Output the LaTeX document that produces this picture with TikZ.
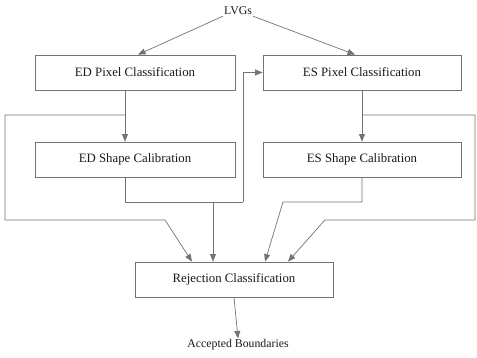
\documentclass[tikz,border=0pt]{standalone}
\usepackage{fontspec}
\setmainfont{Liberation Serif}
\usetikzlibrary{arrows.meta}
\begin{document}
\begin{tikzpicture}[x=1pt,y=-1pt,
  box/.style={draw=black!55,line width=0.8pt,minimum height=35pt,inner sep=0pt,font=\fontsize{12.8}{14}\selectfont,text=black!90},
  lbl/.style={font=\fontsize{11.8}{13}\selectfont,text=black!90,inner sep=1pt},
  conn/.style={draw=black!55,line width=0.7pt},
  arr/.style={conn,-{Triangle[length=7.5pt,width=6pt]},shorten >=0pt}]
\useasboundingbox (0,0) rectangle (477,358);
\node[lbl] (lvg) at (238,11) {LVGs};
\node[box,minimum width=200pt] (edp) at (135,72.5) {ED Pixel Classification};
\node[box,minimum width=198pt] (esp) at (362,72.5) {ES Pixel Classification};
\node[box,minimum width=200pt] (eds) at (135,159.5) {ED Shape Calibration};
\node[box,minimum width=198pt] (ess) at (362,159.5) {ES Shape Calibration};
\node[box,minimum width=198pt] (rej) at (234,279.5) {Rejection Classification};
\node[lbl] (acc) at (238,345) {Accepted Boundaries};
% junction coordinates
\coordinate (lj) at (125,115);
\coordinate (rj) at (362,115);
\coordinate (ll1) at (5,115);
\coordinate (ll2) at (5,220);
\coordinate (ll3) at (165,220);
\coordinate (rl1) at (475,115);
\coordinate (rl2) at (475,220);
\coordinate (rl3) at (325,220);
\coordinate (ej1) at (125,202);
\coordinate (ej2) at (213,202);
\coordinate (ej3) at (243,202);
\coordinate (ej4) at (243,72.5);
\coordinate (sj1) at (362,202);
\coordinate (sj2) at (283,202);
% connectors
\draw[arr] (lvg.south west) -- ([xshift=3pt]edp.north);
\draw[arr] (lvg.south east) -- ([xshift=-7pt]esp.north);
\draw[arr] ([xshift=-10pt]edp.south) -- ([xshift=-10pt]eds.north);
\draw[arr] (esp.south) -- (ess.north);
\draw[arr] (lj) -- (ll1) -- (ll2) -- (ll3) -- ([xshift=-42pt]rej.north);
\draw[arr] (rj) -- (rl1) -- (rl2) -- (rl3) -- ([xshift=54pt]rej.north);
\draw[conn] ([xshift=-10pt]eds.south) -- (ej1) -- (ej3);
\draw[arr] (ej3) -- (ej4) -- (esp.west);
\draw[arr] (ej2) -- ([xshift=-21pt]rej.north);
\draw[arr] (ess.south) -- (sj1) -- (sj2) -- ([xshift=31pt]rej.north);
\draw[arr] (rej.south) -- (acc.north);
\end{tikzpicture}
\end{document}
